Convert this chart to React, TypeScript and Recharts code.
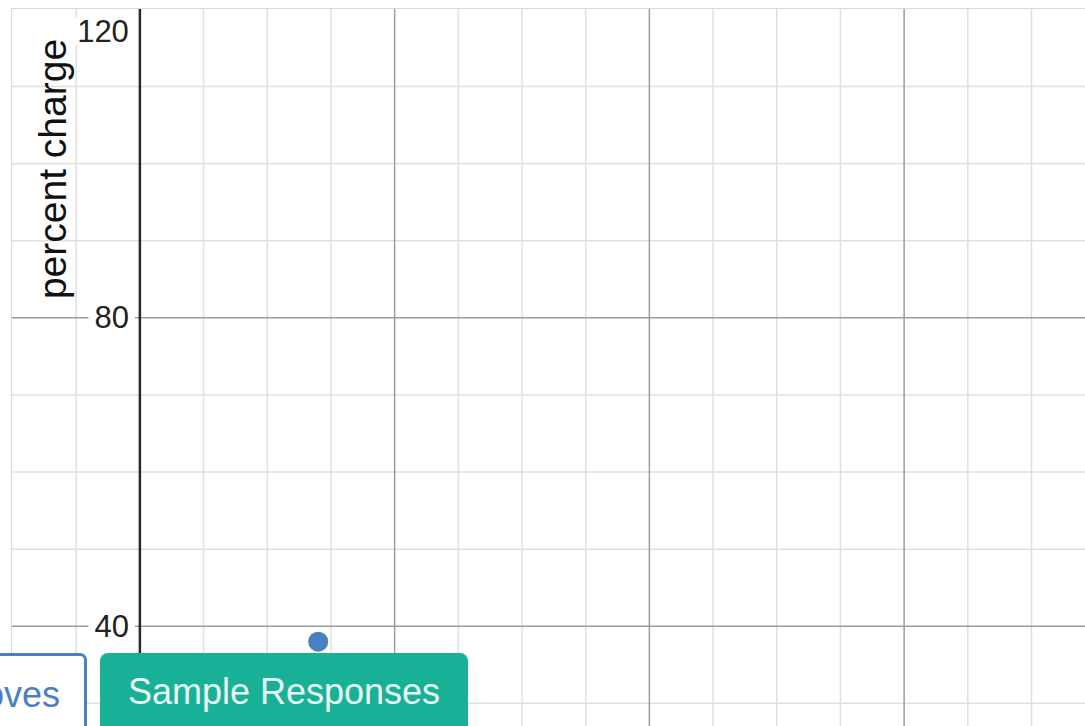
import { ScatterChart, Scatter, XAxis, YAxis, ReferenceLine, ReferenceDot } from 'recharts'

// graph window (Desmos-like): x from -10 to ~74, y from ~27 to 120
const xDomain = [-10.04, 74.2]
const yDomain = [27.06, 120.06]

const minorX = [-5, 5, 10, 15, 25, 30, 35, 45, 50, 55, 65, 70]
const majorX = [20, 40, 60]
const minorY = [30, 50, 60, 70, 90, 100, 110]
const majorY = [40, 80]
const yTickLabels = [40, 80, 120]

const points = [{ x: 14, y: 38 }]

const FONT = '"Liberation Sans", Arial, sans-serif'

function TickLabel(props: any) {
  const { cx, cy, value } = props
  const fs = 31
  const text = String(value)
  const w = text.length * fs * 0.556
  const y = Math.max(cy, 22)
  return (
    <g>
      <rect x={cx - 12 - w - 5} y={y - 14} width={w + 12} height={28} fill="#fff" />
      <text x={cx - 11} y={y} textAnchor="end" dominantBaseline="central" fontSize={fs} fontFamily={FONT} fill="#222">
        {text}
      </text>
    </g>
  )
}

export default function App() {
  return (
    <div style={{ position: 'fixed', inset: 0, background: '#fff', overflow: 'hidden' }}>
      <div style={{ position: 'absolute', left: 11, top: 8, width: 1074, height: 718, borderLeft: '1px solid #d9d9d9', borderTop: '1px solid #d9d9d9', boxSizing: 'border-box' }}>
        <ScatterChart width={1073} height={717} margin={{ top: 0, right: 0, bottom: 0, left: 0 }}>
          <XAxis type="number" dataKey="x" domain={xDomain} allowDataOverflow hide />
          <YAxis type="number" dataKey="y" domain={yDomain} allowDataOverflow hide />
          {minorX.map(v => <ReferenceLine key={'mx' + v} x={v} stroke="#e0e0e0" strokeWidth={1.5} />)}
          {minorY.map(v => <ReferenceLine key={'my' + v} y={v} stroke="#e0e0e0" strokeWidth={1.5} />)}
          {majorX.map(v => <ReferenceLine key={'Mx' + v} x={v} stroke="#9c9c9c" strokeWidth={1.5} />)}
          {majorY.map(v => <ReferenceLine key={'My' + v} y={v} stroke="#9c9c9c" strokeWidth={1.5} />)}
          <ReferenceLine x={0} stroke="#2a2a2a" strokeWidth={2.5} />
          {yTickLabels.map(v => (
            <ReferenceDot key={'t' + v} x={0} y={v} ifOverflow="visible" shape={(p: any) => <TickLabel {...p} value={v} />} />
          ))}
          <Scatter
            data={points}
            isAnimationActive={false}
            shape={(p: any) => <circle cx={p.cx} cy={p.cy} r={10} fill="#4a80c2" />}
          />
        </ScatterChart>
      </div>
      <div style={{ position: 'absolute', left: 52, top: 169, transform: 'translate(-50%, -50%) rotate(-90deg)', whiteSpace: 'nowrap', fontFamily: FONT, fontSize: 39, color: '#111', lineHeight: 1 }}>
        percent charge
      </div>
      <div style={{ position: 'absolute', left: -60, top: 653, width: 147, height: 100, boxSizing: 'border-box', border: '3px solid #4a80c2', borderRadius: 7, background: '#fff', color: '#4a80c2', fontFamily: FONT, fontSize: 36, textAlign: 'right', paddingRight: 24, paddingTop: 21, lineHeight: 1 }}>
        Moves
      </div>
      <div style={{ position: 'absolute', left: 100, top: 653, width: 368, height: 100, boxSizing: 'border-box', borderRadius: 8, background: '#18b197', color: '#eaf8f4', fontFamily: FONT, fontSize: 36, textAlign: 'center', paddingTop: 21, lineHeight: 1 }}>
        Sample Responses
      </div>
    </div>
  )
}
